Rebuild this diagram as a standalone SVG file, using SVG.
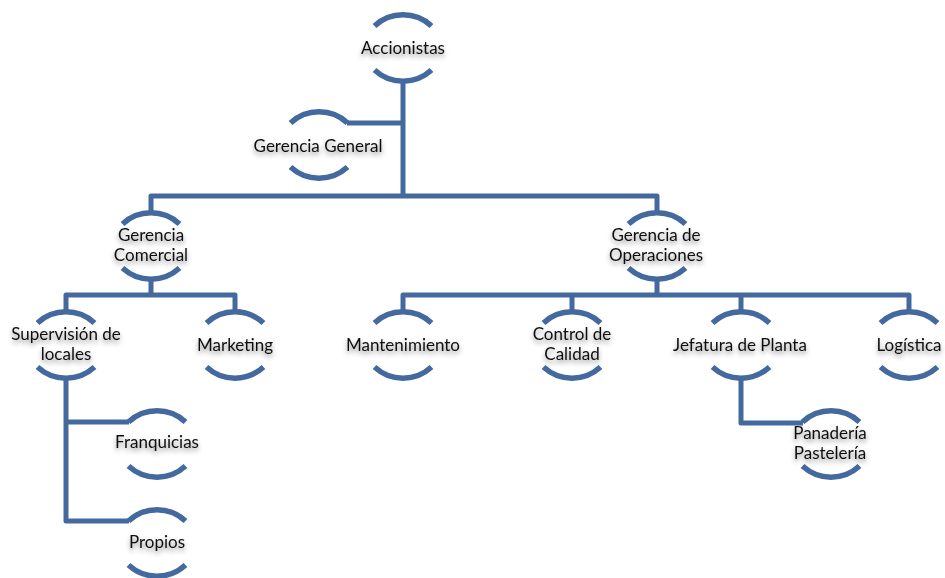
<svg xmlns="http://www.w3.org/2000/svg" width="945" height="578" viewBox="0 0 945 578">
  <style>
    .arc { fill: none; stroke: #43699F; stroke-width: 5.5; stroke-linecap: butt; }
    .link { fill: none; stroke: #43699F; stroke-width: 5; stroke-linejoin: round; stroke-linecap: butt; }
    .label { font-family: Lato, "Liberation Sans", sans-serif; font-size: 17px; fill: #111111; text-anchor: middle; filter: url(#soft); }
  </style>
  <defs>
    <filter id="soft" x="-20%" y="-50%" width="140%" height="220%">
      <feDropShadow dx="0" dy="3" stdDeviation="2.5" flood-color="#000000" flood-opacity="0.45"/>
    </filter>
    <!-- a node: two facing arcs around its center -->
    <g id="ring">
      <path class="arc" d="M-28.5,-22 A42 42 0 0 1 28.5,-22"/>
      <path class="arc" d="M-28.5,22 A42 42 0 0 0 28.5,22"/>
    </g>
  </defs>

  <rect width="945" height="578" fill="#ffffff"/>

  <g id="connectors">
    <path class="link" d="M403,81 V196"/>
    <path class="link" d="M347,123 H403"/>
    <path class="link" d="M151,213 V196 H657 V213"/>
    <path class="link" d="M151,279 V295"/>
    <path class="link" d="M66,312 V295 H235 V312"/>
    <path class="link" d="M657,279 V295"/>
    <path class="link" d="M403,312 V295 H909 V312"/>
    <path class="link" d="M572,295 V312"/>
    <path class="link" d="M741,295 V312"/>
    <path class="link" d="M66,378 V521 H129"/>
    <path class="link" d="M66,422 H129"/>
    <path class="link" d="M741,378 V423 H803"/>
  </g>

  <g id="accionistas">
    <use href="#ring" x="403" y="48"/>
    <text class="label" x="403" y="54">Accionistas</text>
  </g>
  <g id="gerencia-general">
    <use href="#ring" x="319" y="145"/>
    <text class="label" x="318" y="152">Gerencia General</text>
  </g>
  <g id="gerencia-comercial">
    <use href="#ring" x="151" y="246"/>
    <text class="label" x="151" y="241">Gerencia</text>
    <text class="label" x="151" y="261">Comercial</text>
  </g>
  <g id="gerencia-operaciones">
    <use href="#ring" x="657" y="246"/>
    <text class="label" x="656" y="241">Gerencia de</text>
    <text class="label" x="656" y="261">Operaciones</text>
  </g>
  <g id="supervision-locales">
    <use href="#ring" x="66" y="345"/>
    <text class="label" x="66" y="340">Supervisión de</text>
    <text class="label" x="66" y="360">locales</text>
  </g>
  <g id="marketing">
    <use href="#ring" x="235" y="345"/>
    <text class="label" x="235" y="351">Marketing</text>
  </g>
  <g id="mantenimiento">
    <use href="#ring" x="403" y="345"/>
    <text class="label" x="403" y="351">Mantenimiento</text>
  </g>
  <g id="control-calidad">
    <use href="#ring" x="572" y="345"/>
    <text class="label" x="572" y="340">Control de</text>
    <text class="label" x="572" y="360">Calidad</text>
  </g>
  <g id="jefatura-planta">
    <use href="#ring" x="741" y="345"/>
    <text class="label" x="740" y="351">Jefatura de Planta</text>
  </g>
  <g id="logistica">
    <use href="#ring" x="909" y="345"/>
    <text class="label" x="909" y="351">Logística</text>
  </g>
  <g id="franquicias">
    <use href="#ring" x="157" y="444"/>
    <text class="label" x="157" y="448">Franquicias</text>
  </g>
  <g id="propios">
    <use href="#ring" x="157" y="543"/>
    <text class="label" x="157" y="548">Propios</text>
  </g>
  <g id="panaderia-pasteleria">
    <use href="#ring" x="831" y="444"/>
    <text class="label" x="830" y="439">Panadería</text>
    <text class="label" x="830" y="459">Pastelería</text>
  </g>
</svg>
